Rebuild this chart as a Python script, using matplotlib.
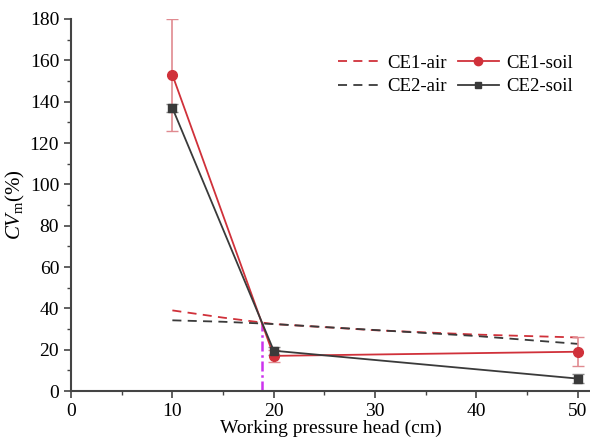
import numpy as np
import matplotlib.pyplot as plt
from matplotlib.lines import Line2D

plt.rcParams['font.family'] = 'Liberation Serif'
plt.rcParams['mathtext.fontset'] = 'custom'
plt.rcParams['mathtext.rm'] = 'Liberation Serif'
plt.rcParams['mathtext.it'] = 'Liberation Serif:italic'

# soil measurements
head = [10, 20, 50]
ce1_soil = [153, 17, 19]
ce1_err = [27, 3, 7]
ce2_soil = [137, 19.5, 6]
ce2_err = [2, 2, 2]

# air curves
head_air = [10, 15, 20, 30, 40, 50]
ce1_air = [39, 35.5, 32.4, 29.4, 27.3, 25.9]
ce2_air = [34.2, 33.5, 32.4, 29.5, 26.6, 22.8]

# intersection marker
cross_x = 18.8
cross_y = 33

red = '#d0313a'
dark = '#3a3a3a'

fig = plt.figure(figsize=(5.9, 4.41), dpi=100)
ax = fig.add_axes([71/590, 50/441, 1 - 71/590, 372/441])

ax.plot(head_air, ce1_air, color=red, lw=1.3, dashes=(5, 3.5))
ax.plot(head_air, ce2_air, color=dark, lw=1.3, dashes=(5, 3.5))

ax.errorbar(head, ce1_soil, yerr=ce1_err, color=red, marker='o', ms=7, lw=1.3,
            ecolor='#e08a90', elinewidth=1.2, capsize=4)
ax.errorbar(head, ce2_soil, yerr=ce2_err, color=dark, marker='s', ms=6, lw=1.3,
            ecolor='#888888', elinewidth=1.2, capsize=4)

ax.plot([cross_x, cross_x], [0, cross_y], color='#cc33ee', lw=1.8,
        linestyle=(0, (4, 1.5, 1, 1.5)))

ax.set_xlim(0, 51.2)
ax.set_ylim(0, 180)
ax.set_xticks([0, 10, 20, 30, 40, 50])
ax.set_xticks([5, 15, 25, 35, 45], minor=True)
ax.set_yticks(np.arange(0, 181, 20))
ax.set_yticks(np.arange(10, 180, 20), minor=True)

for s in ['top', 'right']:
    ax.spines[s].set_visible(False)
for s in ['left', 'bottom']:
    ax.spines[s].set_color('#444444')
    ax.spines[s].set_linewidth(1.5)
ax.tick_params(which='major', length=5, width=1.2, color='#444444', labelsize=14)
ax.tick_params(which='minor', length=3, width=1.0, color='#444444')

ax.set_xlabel('Working pressure head (cm)', fontsize=14, labelpad=0)
ax.set_ylabel(r'$\mathit{CV}_{\mathrm{m}}$(%)', fontsize=15, labelpad=2)

handles = [
    Line2D([], [], color=red, lw=1.3, dashes=(5, 3.5)),
    Line2D([], [], color=dark, lw=1.3, dashes=(5, 3.5)),
    Line2D([], [], color=red, lw=1.3, marker='o', ms=6),
    Line2D([], [], color=dark, lw=1.3, marker='s', ms=5),
]
labels = ['CE1-air', 'CE2-air', 'CE1-soil', 'CE2-soil']
ax.legend(handles, labels, ncol=2, frameon=False, fontsize=13.5, loc='upper right',
          bbox_to_anchor=(1.0, 0.95), handlelength=2.2, columnspacing=0.6,
          handletextpad=0.4, labelspacing=0.35)

fig.savefig('out.png', dpi=100)
